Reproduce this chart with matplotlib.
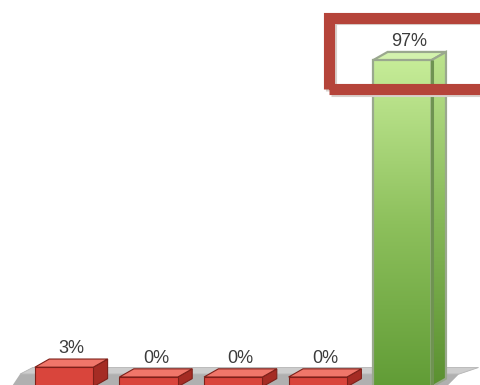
#!/usr/bin/env python3
"""Share of responses, pseudo-3D column chart with the winning column boxed."""

import matplotlib
import numpy as np

matplotlib.use("Agg")
import matplotlib.pyplot as plt
from matplotlib.colors import LinearSegmentedColormap
from matplotlib.patches import Polygon, Rectangle


VALUES = [3, 0, 0, 0, 97]
HIGHLIGHT = 4

RED = {"front": "#d9453c", "top": "#f0766a", "side": "#a52c24", "edge": "#7e2019"}
GREEN = {"front_top": "#c6ec98", "front_bottom": "#619c36", "top": "#d3f2ad",
         "side": "#8cbf5c", "edge": "#9aa88e", "seam": "#6f9252"}

BAR_WIDTH = 0.69
DEPTH_X = 0.17
DEPTH_Y = 2.5
BASE = -3.0


def draw_floor(ax):
    n = len(VALUES)
    x0, x1 = -0.52, n - 1 + 0.72
    top = [(x0, 0.9), (x1 - 0.05, 0.9), (x1 + 0.18, 0.9 + 2.0), (x0 + 0.15, 0.9 + 2.0)]
    front = [(x0 - 0.1, BASE), (x1 - 0.2, BASE), (x1 - 0.05, 0.9), (x0, 0.9)]
    ax.add_patch(Polygon(front, closed=True, facecolor="#b0b0b0", edgecolor="none", zorder=1))
    ax.add_patch(Polygon(top, closed=True, facecolor="#cdcdcd", edgecolor="#b4b4b4",
                         linewidth=0.6, zorder=1))


def shade(ax, patch, extent, colors, zorder):
    cmap = LinearSegmentedColormap.from_list("col", colors)
    grad = np.linspace(0, 1, 256).reshape(-1, 1)
    img = ax.imshow(grad, cmap=cmap, origin="lower", aspect="auto",
                    extent=extent, zorder=zorder, interpolation="bilinear")
    img.set_clip_path(patch)


def draw_column(ax, x, value, colors, gradient=False):
    left, right = x - BAR_WIDTH / 2, x + BAR_WIDTH / 2
    side = [(right, BASE), (right, value), (right + DEPTH_X, value + DEPTH_Y),
            (right + DEPTH_X, BASE + DEPTH_Y)]
    top = [(left, value), (right, value), (right + DEPTH_X, value + DEPTH_Y),
           (left + DEPTH_X, value + DEPTH_Y)]
    lw = 1.6 if gradient else 0.8
    side_patch = Polygon(side, closed=True, facecolor=colors["side"],
                         edgecolor=colors["edge"], linewidth=lw, zorder=3)
    ax.add_patch(side_patch)
    ax.add_patch(Polygon(top, closed=True, facecolor=colors["top"],
                         edgecolor=colors["edge"], linewidth=lw, zorder=3))

    front = Rectangle((left, BASE), BAR_WIDTH, value - BASE, zorder=4,
                      facecolor=colors.get("front", "none"),
                      edgecolor=colors["edge"], linewidth=lw)
    ax.add_patch(front)
    if gradient:
        ramp = [colors["front_bottom"], "#8dc05c", colors["front_top"]]
        shade(ax, front, (left, right, BASE, value), ramp, 4)
        shade(ax, side_patch, (right, right + DEPTH_X, BASE, value + DEPTH_Y),
              ["#5a9030", "#86b858", "#bde48e"], 3.5)
        front.set_facecolor("none")
        front.set_zorder(5)
        side_patch.set_facecolor("none")
        side_patch.set_zorder(5)
        ax.plot([right, right], [BASE, value], color=colors["seam"], linewidth=2.2,
                zorder=5.5, solid_capstyle="butt")


def main():
    fig = plt.figure(figsize=(4.81, 3.85), dpi=100)
    ax = fig.add_axes([0, 0, 1, 1])
    ax.set_axis_off()

    draw_floor(ax)
    for i, v in enumerate(VALUES):
        if i == HIGHLIGHT:
            draw_column(ax, i, v, GREEN, gradient=True)
        else:
            draw_column(ax, i, v, RED)
        ax.annotate(f"{v}%", (i + DEPTH_X / 2, v + DEPTH_Y), xytext=(0, 1.5),
                    textcoords="offset points", ha="center", va="bottom",
                    fontsize=13, color="#3c3c3c", family="Liberation Sans", zorder=6)

    ax.set_xlim(-0.757, 4.929)
    ax.set_ylim(-2.45, 115.4)

    # call-out box around the winning column, running off the right edge
    box_kw = dict(transform=fig.transFigure, fill=False, clip_on=False)
    ax.add_patch(Rectangle((331.5 / 481, 1 - 91 / 385), 0.5, 72 / 385,
                           edgecolor="#d8d0cc", linewidth=8, zorder=9, **box_kw))
    ax.add_patch(Rectangle((329.5 / 481, 1 - 89 / 385), 0.5, 71.5 / 385,
                           edgecolor="#b5443a", linewidth=8, zorder=10, **box_kw))

    fig.savefig("out.png", dpi=100)
    plt.close(fig)


if __name__ == "__main__":
    main()
